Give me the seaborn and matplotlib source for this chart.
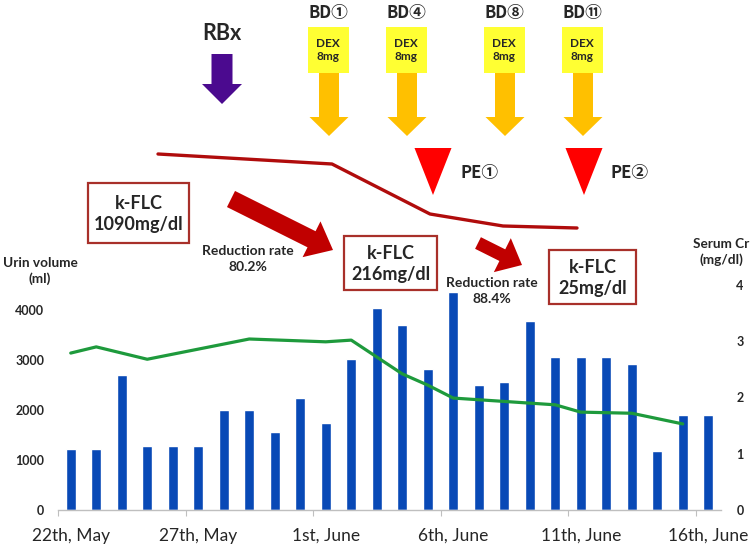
import matplotlib
matplotlib.use("Agg")
import matplotlib.pyplot as plt
import seaborn as sns
import pandas as pd
from matplotlib.patches import Rectangle, Polygon, FancyArrow

# ---------------- data ----------------
day_labels = list(pd.date_range("2021-05-22", "2021-06-16").strftime("%d %b"))
urine_ml = [1220, 1220, 2700, 1280, 1280, 1280, 2000, 2000, 1560, 2250, 1750, 3030, 4050,
            3700, 2820, 4370, 2500, 2560, 3790, 3070, 3070, 3070, 2920, 1190, 1900, 1900]
cr_days = [0, 1, 3, 7, 10, 11, 13, 14, 15, 19, 20, 22, 24]
cr_vals = [2.79, 2.90, 2.68, 3.04, 2.99, 3.02, 2.42, 2.22, 1.99, 1.87, 1.74, 1.72, 1.53]
tick_days = [0, 5, 10, 15, 20, 25]
tick_labels = ["22th, May", "27th, May", "1st, June", "6th, June", "11th, June", "16th, June"]
left_ticks = [0, 1000, 2000, 3000, 4000]
right_ticks = [0, 1, 2, 3, 4]
bd_labels = ["BD①", "BD④", "BD⑧", "BD⑪"]
pe_labels = ["PE①", "PE②"]
flc_labels = ["k-FLC\n1090mg/dl", "k-FLC\n216mg/dl", "k-FLC\n25mg/dl"]
reduction_labels = ["Reduction rate\n80.2%", "Reduction rate\n88.4%"]

# ---------------- style ----------------
sns.set_style("white")
FONT = ["Lato", "DejaVu Sans"]
CIRC_FONT = ["Noto Sans CJK JP", "DejaVu Sans"]
plt.rcParams["font.family"] = FONT

BLUE = "#0849B6"
GREEN = "#1E9A3C"
DARKRED = "#B00C0C"
ARROWRED = "#C00000"
BOXEDGE = "#A8302A"

fig = plt.figure(figsize=(7.51, 5.54), dpi=100)
ax = fig.add_axes([58 / 751, 44 / 554, 663 / 751, 225 / 554])

df = pd.DataFrame({"day": day_labels, "urine": urine_ml})
sns.barplot(data=df, x="day", y="urine", order=day_labels, color=BLUE,
            saturation=1, width=0.4, ax=ax)
ax.set_xlim(-0.5, len(day_labels) - 0.5)
ax.set_ylim(0, 4500)
ax.set_yticks(left_ticks)
ax.set_yticklabels([str(t) for t in left_ticks], fontsize=9, fontweight="bold")
ax.set_xlabel("")
ax.set_ylabel("")
ax.set_xticks([d - 0.5 for d in range(0, len(day_labels), 5)])
ax.set_xticklabels([])
ax.set_xticks(tick_days, minor=True)
ax.set_xticklabels(tick_labels, minor=True, fontsize=12.5)
ax.tick_params(axis="x", which="major", length=4, color="#BFBFBF", direction="out", bottom=True)
ax.tick_params(axis="x", which="minor", length=0, pad=13)
ax.tick_params(axis="y", length=0, pad=10)
for s in ["top", "left", "right"]:
    ax.spines[s].set_visible(False)
ax.spines["bottom"].set_color("#BFBFBF")
ax.spines["bottom"].set_linewidth(1.0)

ax2 = ax.twinx()
sns.lineplot(x=cr_days, y=cr_vals, ax=ax2, color=GREEN, linewidth=2.3)
ax2.set_ylim(0, 4)
ax2.set_yticks(right_ticks)
ax2.set_yticklabels([str(t) for t in right_ticks], fontsize=9, fontweight="bold")
ax2.tick_params(axis="y", length=0, pad=11)
for s in ["top", "left", "right", "bottom"]:
    ax2.spines[s].set_visible(False)
ax2.set_ylabel("")

# ---------------- annotation overlay (pixel coordinates) ----------------
ov = fig.add_axes([0, 0, 1, 1], zorder=5)
ov.set_xlim(0, 751)
ov.set_ylim(554, 0)
ov.axis("off")
ov.patch.set_alpha(0)

# axis titles
ov.text(40, 271, "Urin volume\n(ml)", ha="center", va="center", fontsize=9.8,
        fontweight="bold", linespacing=1.35)
ov.text(721, 252, "Serum Cr\n(mg/dl)", ha="center", va="center", fontsize=9.8,
        fontweight="bold", linespacing=1.35)

# RBx
ov.text(222, 33, "RBx", ha="center", va="center", fontsize=15.5, fontweight="bold")
ov.add_patch(FancyArrow(222, 54, 0, 50, width=21, head_width=40, head_length=20,
                        length_includes_head=True, color="#4B0A8F", lw=0))

# BD / DEX boxes with orange arrows
bd_x = [328, 406, 504, 582]
for x, lab in zip(bd_x, bd_labels):
    ov.text(x, 13, lab, ha="center", va="center", fontsize=12, fontweight="bold",
            family=CIRC_FONT)
    ov.add_patch(Rectangle((x - 20.5, 27), 41, 46, facecolor="#FFFF33", edgecolor="none"))
    ov.text(x, 50, "DEX\n8mg", ha="center", va="center", fontsize=8.5, fontweight="bold",
            linespacing=1.3)
    ov.add_patch(FancyArrow(x + 1, 73, 0, 63, width=20, head_width=39, head_length=19,
                            length_includes_head=True, color="#FFC000", lw=0))

# PE triangles
pe_x = [433, 584]
for x, lab in zip(pe_x, pe_labels):
    ov.add_patch(Polygon([(x - 18.5, 148), (x + 18.5, 148), (x, 195)], closed=True,
                         facecolor="#FF0000", edgecolor="none"))
    ov.text(x + 27, 173, lab, ha="left", va="center", fontsize=12, fontweight="bold",
            family=CIRC_FONT)

# k-FLC trend line
ov.plot([158, 332, 430, 503, 577], [154, 164, 214, 226, 228], color=DARKRED,
        linewidth=2.4, solid_capstyle="round", solid_joinstyle="round")

# k-FLC boxes
boxes = [(88, 183, 101, 60), (344, 236, 93, 54), (549, 250, 87, 54)]
for (bx, by, bw, bh), lab in zip(boxes, flc_labels):
    ov.add_patch(Rectangle((bx, by), bw, bh, facecolor="white", edgecolor=BOXEDGE, lw=1.6))
    ov.text(bx + bw / 2, by + bh / 2 + 1, lab, ha="center", va="center", fontsize=13,
            fontweight="bold", linespacing=1.3)

# reduction arrows
ov.add_patch(FancyArrow(231, 199, 102, 51, width=18, head_width=40, head_length=24,
                        length_includes_head=True, color=ARROWRED, lw=0))
ov.add_patch(FancyArrow(478, 243, 44, 22, width=13, head_width=38, head_length=22,
                        length_includes_head=True, color=ARROWRED, lw=0))

# reduction rate texts
ov.text(248, 259, reduction_labels[0], ha="center", va="center", fontsize=10,
        fontweight="bold", linespacing=1.4)
ov.text(492, 291, reduction_labels[1], ha="center", va="center", fontsize=10,
        fontweight="bold", linespacing=1.4)

fig.savefig("out.png", dpi=100)
